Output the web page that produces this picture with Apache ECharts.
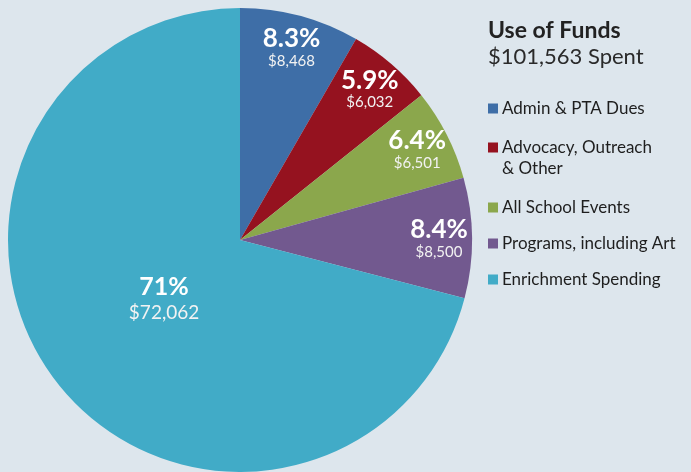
<!DOCTYPE html>
<html>
<head>
<meta charset="utf-8">
<script src="https://cdn.jsdelivr.net/npm/echarts@6/dist/echarts.min.js"></script>
<style>
  html, body { margin: 0; padding: 0; background: #dde6ed; }
  #chart { width: 691px; height: 472px; }
</style>
</head>
<body>
<div id="chart"></div>
<script>
// данные графика
const categories = ['Admin & PTA Dues', 'Advocacy, Outreach & Other', 'All School Events', 'Programs, including Art', 'Enrichment Spending'];
const amounts = [8468, 6032, 6501, 8500, 72062];
const percentLabels = ['8.3%', '5.9%', '6.4%', '8.4%', '71%'];
const colors = ['#3e6ea7', '#95121f', '#8ba74c', '#72598f', '#41abc7'];
const titleText = 'Use of Funds';
const subText = '$101,563 Spent';

const FONT = 'Lato, "Open Sans", sans-serif';
const chart = echarts.init(document.getElementById('chart'), null, { renderer: 'canvas' });

const money = v => '$' + v.toLocaleString('en-US');
const pieData = categories.map((name, i) => ({ name: name, value: amounts[i], itemStyle: { color: colors[i] } }));
const BIG = categories.length - 1;

// overlay-серии только для подписей (прозрачные сектора)
function labelData(showFn) {
    return categories.map((name, i) => ({
        name: name,
        value: amounts[i],
        itemStyle: { color: 'rgba(0,0,0,0)' },
        label: { show: showFn(i) }
    }));
}

const labelRich = {
    p: { fontFamily: FONT, fontSize: 26, fontWeight: 'bold', color: '#fff', lineHeight: 27 },
    v: { fontFamily: FONT, fontSize: 15, color: '#f2f2f2', lineHeight: 18 },
    pb: { fontFamily: FONT, fontSize: 25, fontWeight: 'bold', color: '#fff', lineHeight: 28 },
    vb: { fontFamily: FONT, fontSize: 19, color: '#f2f2f2', lineHeight: 24 }
};

// многострочная подпись: пустая строка сверху, чтобы значок стоял у первой строки
const legendTops = [95, 113, 194, 230, 266];
const legends = categories.map((name, i) => ({
    left: 483,
    top: legendTops[i],
    orient: 'vertical',
    icon: 'rect',
    itemWidth: 10,
    itemHeight: 10,
    itemGap: 0,
    selectedMode: false,
    data: [{ name: name, itemStyle: { color: colors[i] } }],
    formatter: n => n === 'Advocacy, Outreach & Other' ? '{t|}\n{t|Advocacy, Outreach}\n{t|& Other}' : '{t|' + n + '}',
    textStyle: {
        padding: [0, 0, 0, -1],
        rich: { t: { fontFamily: FONT, fontSize: 17, color: '#1e1e1e', lineHeight: 21 } }
    }
}));

chart.setOption({
    backgroundColor: '#dde6ed',
    animation: false,
    title: {
        text: titleText,
        subtext: subText,
        left: 483,
        top: 14,
        itemGap: 4,
        textStyle: { fontFamily: FONT, fontSize: 23, fontWeight: 'bold', color: '#222' },
        subtextStyle: { fontFamily: FONT, fontSize: 22, color: '#2a2a2a' }
    },
    legend: legends,
    series: [
        {
            type: 'pie',
            center: [240, 240],
            radius: 232,
            startAngle: 90,
            clockwise: true,
            silent: true,
            label: { show: false },
            labelLine: { show: false },
            itemStyle: { borderWidth: 0 },
            data: pieData
        },
        {
            // подписи маленьких секторов у края
            type: 'pie',
            center: [240, 240],
            radius: [160, 232],
            startAngle: 90,
            silent: true,
            labelLine: { show: false },
            label: {
                position: 'inside',
                formatter: p => '{p|' + percentLabels[p.dataIndex] + '}\n{v|' + money(p.value) + '}',
                rich: labelRich
            },
            data: labelData(i => i !== BIG)
        },
        {
            // подпись большого сектора
            type: 'pie',
            center: [240, 240],
            radius: [0, 186],
            startAngle: 90,
            silent: true,
            labelLine: { show: false },
            label: {
                position: 'inside',
                formatter: p => '{pb|' + percentLabels[p.dataIndex] + '}\n{vb|' + money(p.value) + '}',
                rich: labelRich
            },
            data: labelData(i => i === BIG)
        }
    ]
});
</script>
</body>
</html>
